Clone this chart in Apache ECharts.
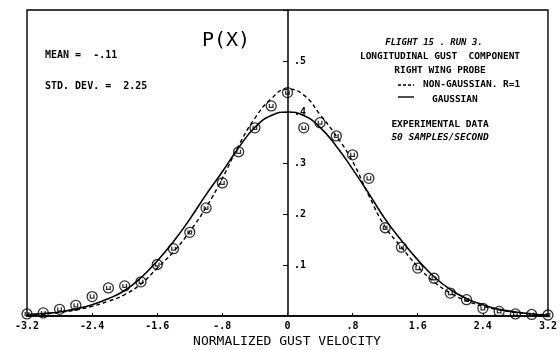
<!DOCTYPE html>
<html><head><meta charset="utf-8">
<script src="https://cdn.jsdelivr.net/npm/echarts@6/dist/echarts.min.js"></script>
<style>html,body{margin:0;padding:0;background:#fff}#c{width:560px;height:350px}</style>
</head><body><div id="c"></div><script>
// ---- data ----
const xValues = [-3.2,-3.0,-2.8,-2.6,-2.4,-2.2,-2.0,-1.8,-1.6,-1.4,-1.2,-1.0,-0.8,-0.6,-0.4,-0.2,0.0,
                 0.2,0.4,0.6,0.8,1.0,1.2,1.4,1.6,1.8,2.0,2.2,2.4,2.6,2.8,3.0,3.2];
const gaussian = [0.003,0.005,0.008,0.014,0.022,0.034,0.050,0.075,0.108,0.146,0.190,0.238,0.283,0.330,0.370,0.393,0.400,
                  0.393,0.370,0.333,0.288,0.240,0.190,0.148,0.110,0.077,0.052,0.034,0.022,0.013,0.008,0.004,0.002];
const nonGaussian = [0.002,0.004,0.007,0.012,0.019,0.029,0.042,0.063,0.094,0.126,0.166,0.213,0.270,0.334,0.388,0.426,0.445,
                     0.433,0.395,0.353,0.303,0.236,0.175,0.135,0.097,0.067,0.045,0.030,0.019,0.012,0.007,0.004,0.002];
const experimental = [0.004,0.006,0.013,0.021,0.038,0.055,0.059,0.067,0.101,0.132,0.164,0.212,0.261,0.322,0.369,0.412,0.438,
                      0.369,0.379,0.353,0.316,0.270,0.173,0.135,0.094,0.074,0.045,0.032,0.015,0.009,0.004,0.003,0.002];
const xTickLabels = ['-3.2','-2.4','-1.6','-.8','0','.8','1.6','2.4','3.2'];
const yTickLabels = ['','.1','.2','.3','.4','.5',''];

const pairs = arr => xValues.map((x,i)=>[x,arr[i]]);
const F = 'DejaVu Sans Mono';
const GL = 27, GR = 11;
const chart = echarts.init(document.getElementById('c'), null, {renderer:'canvas'});
const circleSym = 'path://M0,-5A5,5 0 1,1 0,5A5,5 0 1,1 0,-5ZM-1.8,-2L-1.8,1.5L1.8,1.5L1.8,-2';
const txt = (x,y,t,o={}) => ({type:'text', x, y, style:Object.assign({text:t, fill:'#000', font:'bold 10px "'+F+'"', textAlign:'left', textVerticalAlign:'middle'}, o)});
// y axis sits at x = 0 of the x scale: offset it inward by the grid half-width
const yOffset = -((560 - GL - GR) * (0 - (-3.2)) / 6.4);
chart.setOption({
  animation:false,
  backgroundColor:'#fff',
  grid:{left:GL,right:GR,top:10,bottom:34,show:true,borderColor:'#000',borderWidth:1.4,backgroundColor:'transparent'},
  xAxis:{type:'value',min:-3.2,max:3.2,interval:0.8,
    axisLine:{onZero:true,lineStyle:{color:'#000',width:1.5}},
    axisTick:{show:true,inside:true,length:3,lineStyle:{color:'#000'}},
    splitLine:{show:false},
    axisLabel:{margin:5,color:'#000',fontFamily:F,fontWeight:'bold',fontSize:10,
      formatter:v=>xTickLabels[Math.round((v+3.2)/0.8)]}},
  yAxis:{type:'value',min:0,max:0.6,interval:0.1,position:'left',offset:yOffset,
    axisLine:{show:true,onZero:false,lineStyle:{color:'#000',width:1.5}},
    axisTick:{show:true,inside:false,length:5,lineStyle:{color:'#000'}},
    splitLine:{show:false},
    axisLabel:{inside:true,margin:6,color:'#000',fontFamily:F,fontWeight:'bold',fontSize:10,
      formatter:v=>yTickLabels[Math.round(v*10)]}},
  series:[
    {type:'line',data:pairs(gaussian),smooth:true,symbol:'none',lineStyle:{color:'#000',width:1.6},z:2},
    {type:'line',data:pairs(nonGaussian),smooth:true,symbol:'none',lineStyle:{color:'#000',width:1.4,type:[4,3]},z:2},
    {type:'scatter',data:pairs(experimental),symbol:circleSym,symbolSize:10,
      itemStyle:{color:'rgba(255,255,255,0)',borderColor:'#000',borderWidth:1.3},z:3}
  ],
  graphic:[
    txt(226,41,'P(X)',{font:'20px "'+F+'"',textAlign:'center'}),
    txt(45,55,'MEAN =  -.11'),
    txt(45,86,'STD. DEV. =  2.25'),
    txt(434,43,'FLIGHT 15 . RUN 3.',{font:'italic bold 9px "'+F+'"',textAlign:'center'}),
    txt(440,57,'LONGITUDINAL GUST  COMPONENT',{font:'bold 9.5px "'+F+'"',textAlign:'center'}),
    txt(440,71,'RIGHT WING PROBE',{font:'bold 9.5px "'+F+'"',textAlign:'center'}),
    {type:'line',shape:{x1:398,y1:85,x2:414,y2:85},style:{stroke:'#000',lineWidth:1.3,lineDash:[3,2]}},
    txt(423,85,'NON-GAUSSIAN. R=1',{font:'bold 9.5px "'+F+'"'}),
    {type:'line',shape:{x1:398,y1:97,x2:414,y2:97},style:{stroke:'#000',lineWidth:1.4}},
    txt(432,100,'GAUSSIAN',{font:'bold 9.5px "'+F+'"'}),
    txt(440,125,'EXPERIMENTAL DATA',{font:'bold 9.5px "'+F+'"',textAlign:'center'}),
    txt(440,138,'50 SAMPLES/SECOND',{font:'italic bold 9.5px "'+F+'"',textAlign:'center'}),
    txt(287,342,'NORMALIZED GUST VELOCITY',{font:'13px "'+F+'"',textAlign:'center'})
  ]
});
</script></body></html>
